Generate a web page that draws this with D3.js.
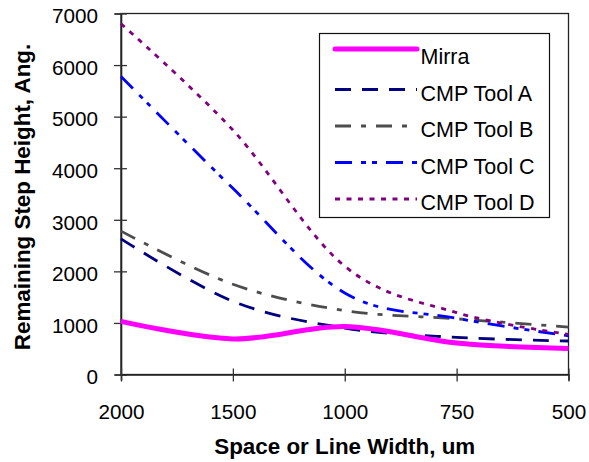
<!DOCTYPE html>
<html>
<head>
<meta charset="utf-8">
<script src="https://cdn.jsdelivr.net/npm/d3@7"></script>
<style>
  html, body { margin: 0; padding: 0; background: #fff; }
  svg { display: block; font-family: Arial, "Liberation Sans", sans-serif; }
</style>
</head>
<body>
<svg id="chart" width="589" height="462"></svg>
<script>
// Space / line width categories (um), shown left to right
const categories = ["2000", "1500", "1000", "750", "500"];

// Remaining step height (Angstrom) per tool
const mirra    = [1030, 690, 930, 610, 505];
const toolA    = [2630, 1420, 900, 720, 650];
const toolB    = [2780, 1750, 1240, 1080, 920];
const toolC    = [5780, 3610, 1580, 1090, 750];
const toolD    = [6800, 4740, 2100, 1200, 780];

const seriesNames = ["Mirra", "CMP Tool A", "CMP Tool B", "CMP Tool C", "CMP Tool D"];
const yTicks = [0, 1000, 2000, 3000, 4000, 5000, 6000, 7000];

const series = [
  { name: seriesNames[0], values: mirra, color: "#FF00FF", width: 5,    dash: null },
  { name: seriesNames[1], values: toolA, color: "#000080", width: 2.8,  dash: "16,11" },
  { name: seriesNames[2], values: toolB, color: "#4D4D4D", width: 2.8,  dash: "16,10,5,10" },
  { name: seriesNames[3], values: toolC, color: "#0000FF", width: 2.8,  dash: "17,9,5,6,5,9" },
  { name: seriesNames[4], values: toolD, color: "#800080", width: 2.8,  dash: "5,6.5" }
];

const svg = d3.select("#chart");
const plot = { left: 121, right: 568.5, top: 13.5, bottom: 374.5 };

const x = d3.scalePoint().domain(categories).range([plot.left, plot.right]).padding(0);
const y = d3.scaleLinear().domain([0, 7000]).range([plot.bottom, plot.top]);

// Plot frame
svg.append("rect")
  .attr("x", plot.left).attr("y", plot.top)
  .attr("width", plot.right - plot.left).attr("height", plot.bottom - plot.top)
  .attr("fill", "none").attr("stroke", "#222").attr("stroke-width", 1.3);

// Y axis with ticks crossing the axis line
const yAxis = svg.append("g")
  .attr("transform", `translate(${plot.left},0)`)
  .call(d3.axisLeft(y).tickValues(yTicks).tickSize(6).tickPadding(17).tickFormat(d3.format("d")));
yAxis.select(".domain").attr("stroke", "#222").attr("stroke-width", 1.6);
yAxis.selectAll(".tick line").attr("x1", 6).attr("x2", -7).attr("stroke", "#333").attr("stroke-width", 1.3);
yAxis.selectAll(".tick text")
  .attr("font-size", 20.7).attr("fill", "#000")
  .attr("font-family", "Arial, 'Liberation Sans', sans-serif")
  .attr("dy", "0.45em");

// X axis with ticks crossing the axis line
const xAxis = svg.append("g")
  .attr("transform", `translate(0,${plot.bottom})`)
  .call(d3.axisBottom(x).tickSize(6).tickPadding(0));
xAxis.select(".domain").attr("stroke", "#222").attr("stroke-width", 1.6);
xAxis.selectAll(".tick line").attr("y1", -6).attr("y2", 7).attr("stroke", "#333").attr("stroke-width", 1.3);
xAxis.selectAll(".tick text")
  .attr("font-size", 20.7).attr("fill", "#000")
  .attr("font-family", "Arial, 'Liberation Sans', sans-serif")
  .attr("y", 44.5).attr("dy", 0);

// Axis titles
svg.append("text")
  .attr("x", (plot.left + plot.right) / 2).attr("y", 454)
  .attr("text-anchor", "middle")
  .attr("font-size", 22.4).attr("font-weight", "bold")
  .text("Space or Line Width, um");

svg.append("text")
  .attr("transform", `translate(30,${(plot.top + plot.bottom) / 2 + 3}) rotate(-90)`)
  .attr("text-anchor", "middle")
  .attr("font-size", 22.4).attr("font-weight", "bold")
  .text("Remaining Step Height, Ang.");

// Smoothed series lines
const line = d3.line()
  .x((d, i) => x(categories[i]))
  .y(d => y(d))
  .curve(d3.curveCardinal.tension(0));

const lines = svg.append("g");
// draw Mirra last so it sits on top
[1, 2, 3, 4, 0].forEach(idx => {
  const s = series[idx];
  lines.append("path")
    .datum(s.values)
    .attr("d", line)
    .attr("fill", "none")
    .attr("stroke", s.color)
    .attr("stroke-width", s.width)
    .attr("stroke-dasharray", s.dash)
    .attr("stroke-linejoin", "round");
});

// Legend
const legend = { x: 319.5, y: 33.5, w: 230, h: 184, rowGap: 36.5, firstBaseline: 64 };
const lg = svg.append("g");
lg.append("rect")
  .attr("x", legend.x).attr("y", legend.y)
  .attr("width", legend.w).attr("height", legend.h)
  .attr("fill", "#fff").attr("stroke", "#111").attr("stroke-width", 1.2);

series.forEach((s, i) => {
  const base = legend.firstBaseline + i * legend.rowGap;
  const ly = base - (i === 0 ? 15 : 11);
  lg.append("line")
    .attr("x1", 335).attr("x2", 417)
    .attr("y1", ly).attr("y2", ly)
    .attr("stroke", s.color)
    .attr("stroke-width", s.width)
    .attr("stroke-dasharray", s.dash)
    .attr("stroke-linecap", i === 0 ? "round" : "butt");
  lg.append("text")
    .attr("x", 420.5).attr("y", base)
    .attr("font-size", 21.5).attr("fill", "#000")
    .text(s.name);
});
</script>
</body>
</html>
